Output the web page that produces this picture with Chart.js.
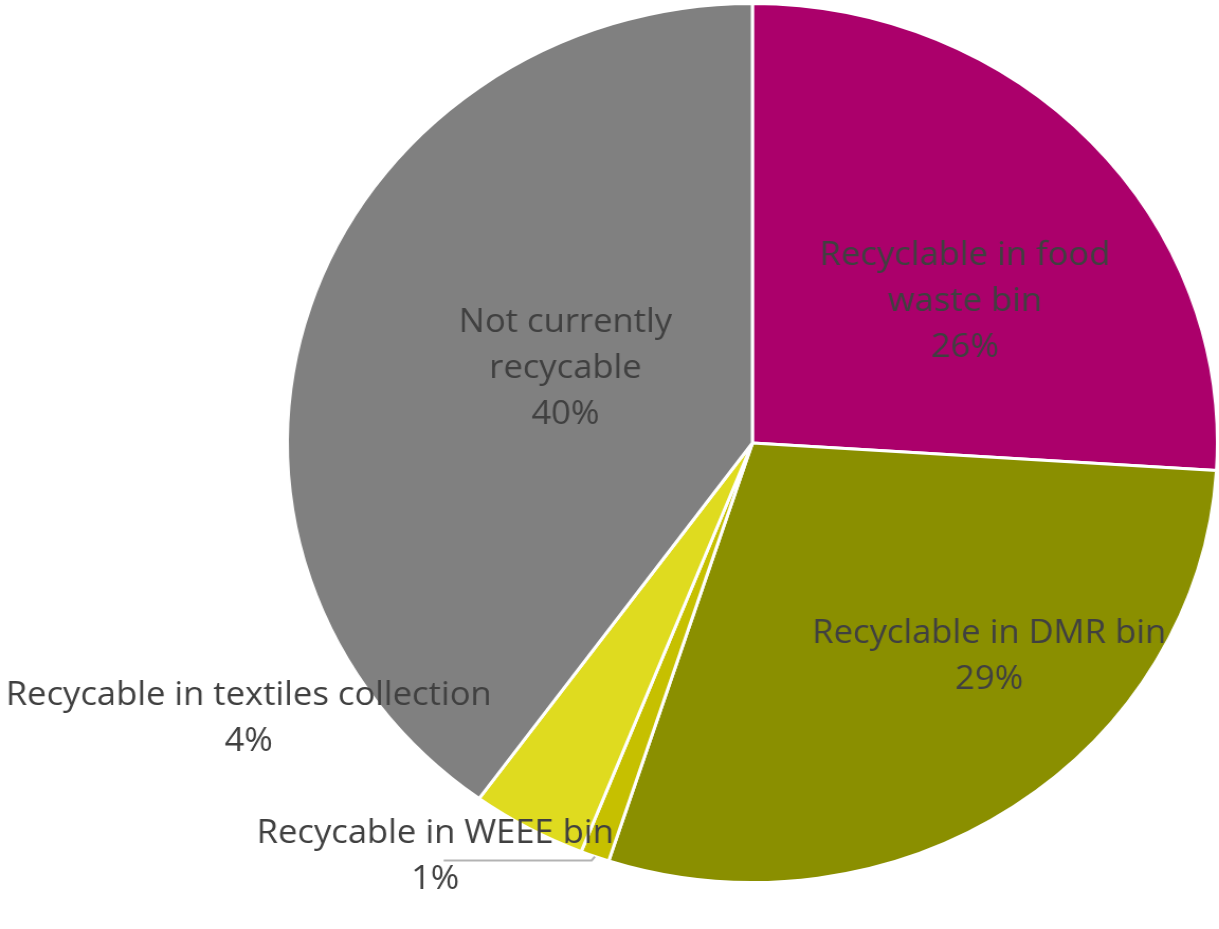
<!DOCTYPE html>
<html>
<head>
<meta charset="utf-8">
<script src="https://cdn.jsdelivr.net/npm/chart.js@4.4.0/dist/chart.umd.min.js"></script>
<style>
html,body{margin:0;padding:0;background:#fff;overflow:hidden;}
#wrap{width:1152px;height:929px;transform:scaleX(1.0582);transform-origin:0 0;}
</style>
</head>
<body>
<div id="wrap"><canvas id="pie" width="1152" height="929"></canvas></div>
<script>
// slices, clockwise from 12 o'clock
const categories = [
  ['Recyclable in food', 'waste bin'],
  ['Recyclable in DMR bin'],
  ['Recycable in WEEE bin'],
  ['Recycable in textiles collection'],
  ['Not currently', 'recycable']
];
const shares = [26, 29, 1, 4, 40];
const sliceColors = ['#ab006b', '#8a8f00', '#c6c000', '#dfdb1f', '#808080'];

// label spot = first baseline, as fraction of radius from centre
const labelSpots = [[0.457, -0.405], [0.509, 0.455], [-0.682, 0.911], [-1.083, 0.595], [-0.402, -0.252]];
const leaderLines = [false, false, true, false, false];

const FONT_PX = 33;
const SQUEEZE = 0.99;
const LINE_H = 46;

const pieLabels = {
  id: 'pieLabels',
  afterDatasetsDraw(chart) {
    const ctx = chart.ctx;
    const arcs = chart.getDatasetMeta(0).data;
    ctx.save();
    ctx.font = FONT_PX + 'px "Open Sans"';
    ctx.fillStyle = '#404040';
    ctx.textAlign = 'center';
    ctx.textBaseline = 'alphabetic';
    arcs.forEach((arc, i) => {
      const p = arc.getProps(['x', 'y', 'outerRadius', 'startAngle', 'endAngle'], true);
      const lx = p.x + labelSpots[i][0] * p.outerRadius;
      const ly = p.y + labelSpots[i][1] * p.outerRadius;
      const lines = categories[i].concat([shares[i] + '%']);
      lines.forEach((t, k) => {
        ctx.save();
        ctx.translate(lx, ly + k * LINE_H);
        ctx.scale(SQUEEZE, 1);
        ctx.fillText(t, 0, 0);
        ctx.restore();
      });
      if (leaderLines[i]) {
        const mid = (p.startAngle + p.endAngle) / 2;
        const ex = p.x + Math.cos(mid) * p.outerRadius;
        const ey = p.y + Math.sin(mid) * p.outerRadius;
        const yy = ly + 17;
        ctx.strokeStyle = '#b3b3b3';
        ctx.lineWidth = 2;
        ctx.beginPath();
        ctx.moveTo(lx + 8, yy);
        ctx.lineTo(ex - 3, yy);
        ctx.lineTo(ex, ey);
        ctx.stroke();
      }
    });
    ctx.restore();
  }
};

new Chart(document.getElementById('pie'), {
  type: 'pie',
  data: {
    labels: categories.map(c => c.join(' ')),
    datasets: [{
      data: shares,
      backgroundColor: sliceColors,
      borderColor: '#ffffff',
      borderWidth: 3
    }]
  },
  options: {
    responsive: false,
    animation: false,
    layout: { padding: { left: 270, right: 0, top: 2, bottom: 45 } },
    plugins: {
      legend: { display: false },
      tooltip: { enabled: false }
    }
  },
  plugins: [pieLabels]
});
</script>
</body>
</html>
